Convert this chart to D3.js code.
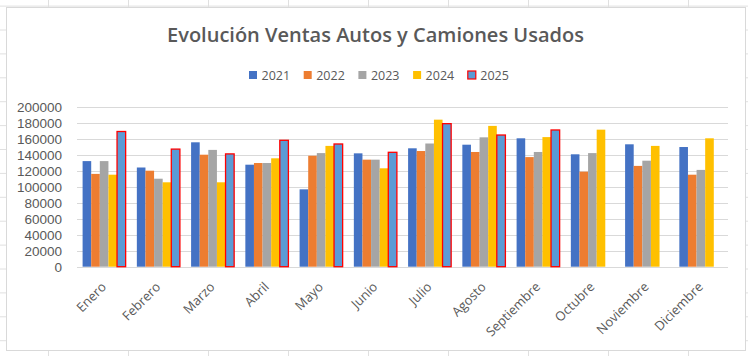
<!DOCTYPE html>
<html>
<head>
<meta charset="utf-8">
<script src="https://cdn.jsdelivr.net/npm/d3@7"></script>
<style>
  html, body { margin: 0; padding: 0; background: #fff; }
  svg { display: block; }
  text { font-family: "Open Sans", "Liberation Sans", sans-serif; }
</style>
</head>
<body>
<svg id="chart" width="748" height="356"></svg>
<script>
const months = ["Enero","Febrero","Marzo","Abril","Mayo","Junio","Julio","Agosto","Septiembre","Octubre","Noviembre","Diciembre"];
const seriesNames = ["2021","2022","2023","2024","2025"];
const v2021 = [132000,124000,155500,127500,96700,141700,148000,152500,160500,140500,153000,149600];
const v2022 = [116000,120000,140000,129600,138700,133800,144600,143400,137000,118800,126000,115000];
const v2023 = [132000,110000,146000,129600,142000,133800,154000,161700,143400,142000,132500,121000];
const v2024 = [115000,105500,105500,135500,151000,123000,183800,176000,162000,171300,151000,160500];
const v2025 = [169000,147000,141000,158000,153400,143000,178800,164600,170900,null,null,null];
const yTicks = [0,20000,40000,60000,80000,100000,120000,140000,160000,180000,200000];
const titleText = "Evolución Ventas Autos y Camiones Usados";

const seriesValues = [v2021, v2022, v2023, v2024, v2025];
const colors = ["#4472C4","#ED7D31","#A5A5A5","#FFC000","#5B9BD5"];
const strokes = [null,null,null,null,"#FF0000"];

const svg = d3.select("#chart");
const W = 748, H = 356;

// spreadsheet background grid
const sheet = svg.append("g");
d3.range(-1, 15).forEach(k => {
  const yy = 30 + 23.9 * k;
  sheet.append("line").attr("x1",0).attr("x2",W).attr("y1",yy).attr("y2",yy)
    .attr("stroke","#e0e0e0").attr("stroke-width",1);
});
d3.range(0, 10).forEach(k => {
  const xx = 48.5 + 80 * k;
  sheet.append("line").attr("x1",xx).attr("x2",xx).attr("y1",0).attr("y2",H)
    .attr("stroke","#e0e0e0").attr("stroke-width",1);
});

// chart area
svg.append("rect").attr("x",6.5).attr("y",7.5).attr("width",739).attr("height",343)
  .attr("fill","#fff").attr("stroke","#d9d9d9").attr("stroke-width",1);

const plotLeft = 77, plotRight = 728, plotTop = 106.7, plotBottom = 266.7;

const y = d3.scaleLinear().domain([0,200000]).range([plotBottom, plotTop]);
const x0 = d3.scaleBand().domain(months).range([plotLeft, plotRight]).padding(0);
const x1 = d3.scaleBand().domain(seriesNames).range([0, x0.bandwidth()]).paddingInner(0).paddingOuter(0.65);

// gridlines
const grid = svg.append("g");
grid.selectAll("line").data(yTicks).join("line")
  .attr("x1", plotLeft).attr("x2", plotRight)
  .attr("y1", d => Math.round(y(d)) + 0.5).attr("y2", d => Math.round(y(d)) + 0.5)
  .attr("stroke","#d9d9d9").attr("stroke-width",1);

// y axis labels
const yAxis = d3.axisLeft(y).tickValues(yTicks).tickSize(0).tickPadding(0).tickFormat(d3.format("d"));
const yg = svg.append("g").attr("transform", `translate(62,0)`).call(yAxis);
yg.select(".domain").remove();
yg.selectAll("text").attr("fill","#595959").style("font-size","13.5px")
  .style("font-family","'Liberation Sans', Arial, sans-serif");

// bars
const barsG = svg.append("g");
seriesNames.forEach((s, si) => {
  const data = months.map((m, i) => ({m, v: seriesValues[si][i]})).filter(d => d.v != null);
  const sel = barsG.append("g").selectAll("rect").data(data).join("rect")
    .attr("x", d => x0(d.m) + x1(s))
    .attr("y", d => y(d.v))
    .attr("width", x1.bandwidth())
    .attr("height", d => plotBottom - y(d.v))
    .attr("fill", colors[si]);
  if (strokes[si]) {
    sel.attr("stroke", strokes[si]).attr("stroke-width", 1.3);
  }
});

// x axis labels
const xAxis = d3.axisBottom(x0).tickSize(0).tickPadding(0);
const xg = svg.append("g").attr("transform", `translate(0,${plotBottom})`).call(xAxis);
xg.select(".domain").remove();
xg.selectAll(".tick text")
  .attr("fill","#595959").style("font-size","13px")
  .style("font-family","'Open Sans', sans-serif")
  .attr("text-anchor","end").attr("dy", 0).attr("y", 0)
  .attr("transform", "translate(3,21) rotate(-45)");

// title
svg.append("text").attr("x", 375.5).attr("y", 42)
  .attr("text-anchor","middle").attr("fill","#595959")
  .style("font-size","20px").style("font-weight","600")
  .text(titleText);

// legend
const legend = svg.append("g");
seriesNames.forEach((s, si) => {
  const lx = 249 + si * 54.7;
  const r = legend.append("rect").attr("x", lx).attr("y", 71).attr("width", 8).attr("height", 8)
    .attr("fill", colors[si]);
  if (strokes[si]) r.attr("stroke", strokes[si]).attr("stroke-width", 1.2);
  legend.append("text").attr("x", lx + 12.5).attr("y", 79.5)
    .attr("fill","#595959").style("font-size","12.5px").text(s);
});
</script>
</body>
</html>
